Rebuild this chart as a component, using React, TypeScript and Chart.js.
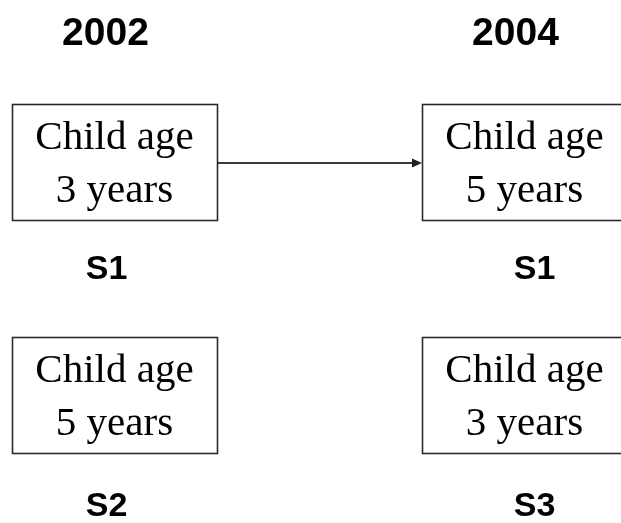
import React, { useEffect, useRef } from 'react';
import { Chart, registerables } from 'chart.js';

Chart.register(...registerables);

// ---- data ----
const yearLabels = ['2002', '2004'];
const yearValues = [2002, 2004];
const nodeYear = [2002, 2004, 2002, 2004];
const nodeRow = [0, 0, 1, 1];
const nodeTitle = ['Child age', 'Child age', 'Child age', 'Child age'];
const nodeAge = ['3 years', '5 years', '5 years', '3 years'];
const sampleLabels = ['S1', 'S1', 'S2', 'S3'];
const arrowFrom = [0];
const arrowTo = [1];

// ---- style ----
const BOX_HALF_W = 0.5; // in year units
const BOX_HALF_H = 58; // px
const SERIF = '"Liberation Serif", "Times New Roman", serif';
const SANS = '"Liberation Sans", Arial, sans-serif';

const diagramPlugin = {
  id: 'diagram',
  afterDatasetsDraw(chart: any) {
    const { ctx } = chart;
    const x = chart.scales.x;
    const y = chart.scales.y;
    ctx.save();
    ctx.textAlign = 'center';
    ctx.textBaseline = 'alphabetic';

    // year headers
    ctx.fillStyle = '#000';
    ctx.font = `bold 39px ${SANS}`;
    yearValues.forEach((v, i) => {
      ctx.fillText(yearLabels[i], x.getPixelForValue(v) - 9, y.getPixelForValue(-0.5));
    });

    // boxes
    nodeYear.forEach((yr, i) => {
      const left = Math.round(x.getPixelForValue(yr - BOX_HALF_W));
      const right = Math.round(x.getPixelForValue(yr + BOX_HALF_W));
      const cy = y.getPixelForValue(nodeRow[i]);
      const top = Math.round(cy - BOX_HALF_H);
      const bottom = Math.round(cy + BOX_HALF_H);
      ctx.strokeStyle = '#2a2a2a';
      ctx.lineWidth = 1.6;
      ctx.strokeRect(left + 0.5, top + 0.5, right - left, bottom - top);
      const cx = (left + right) / 2;
      ctx.fillStyle = '#000';
      ctx.font = `41px ${SERIF}`;
      ctx.fillText(nodeTitle[i], cx, cy - 13);
      ctx.fillText(nodeAge[i], cx, cy + 40);
      ctx.font = `bold 34px ${SANS}`;
      const shift = yr === yearValues[0] ? -8 : 10;
      ctx.fillText(
        sampleLabels[i],
        x.getPixelForValue(yr) + shift,
        y.getPixelForValue(nodeRow[i] + 0.5) + nodeRow[i] * 4
      );
    });

    // arrows
    arrowFrom.forEach((f, k) => {
      const t = arrowTo[k];
      const x0 = Math.round(x.getPixelForValue(nodeYear[f] + BOX_HALF_W)) + 1;
      const x1 = Math.round(x.getPixelForValue(nodeYear[t] - BOX_HALF_W));
      const yy = Math.round(y.getPixelForValue(nodeRow[f])) + 1;
      ctx.strokeStyle = '#3a3a3a';
      ctx.lineWidth = 2;
      ctx.beginPath();
      ctx.moveTo(x0, yy);
      ctx.lineTo(x1 - 8, yy);
      ctx.stroke();
      ctx.fillStyle = '#222';
      ctx.beginPath();
      ctx.moveTo(x1, yy);
      ctx.lineTo(x1 - 10, yy - 4.5);
      ctx.lineTo(x1 - 10, yy + 4.5);
      ctx.closePath();
      ctx.fill();
    });
    ctx.restore();
  },
};

export default function App() {
  const ref = useRef<HTMLCanvasElement | null>(null);
  useEffect(() => {
    document.body.style.margin = '0';
    document.body.style.background = '#ffffff';
    if (!ref.current) return;
    const chart = new Chart(ref.current, {
      type: 'scatter',
      data: {
        datasets: [
          {
            label: 'nodes',
            data: nodeYear.map((v, i) => ({ x: v, y: nodeRow[i] })),
            pointRadius: 0,
            pointHoverRadius: 0,
          },
        ],
      },
      options: {
        responsive: false,
        animation: false,
        layout: { padding: 0 },
        plugins: { legend: { display: false }, tooltip: { enabled: false } },
        events: [],
        scales: {
          x: { type: 'linear', display: false, min: 2001.4415, max: 2004.4707 },
          y: { type: 'linear', display: false, reverse: true, min: -0.69379, max: 1.54604 },
        },
      },
      plugins: [diagramPlugin],
    });
    return () => chart.destroy();
  }, []);
  return (
    <div style={{ width: 621, height: 523, background: '#fff' }}>
      <canvas ref={ref} width={621} height={523} style={{ display: 'block' }} />
    </div>
  );
}
